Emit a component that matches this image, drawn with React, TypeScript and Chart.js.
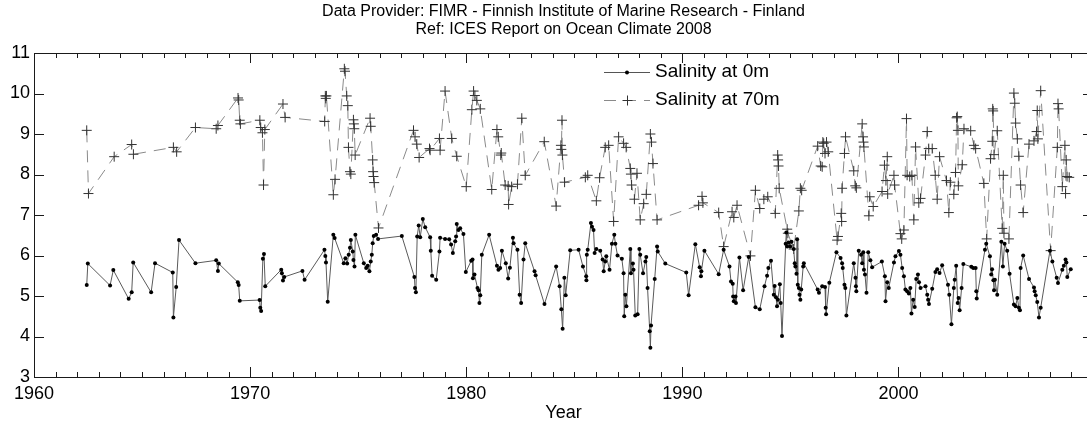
import React, { useEffect, useRef } from 'react';
import { Chart, registerables } from 'chart.js';

Chart.register(...registerables);

const TITLE_LINES = [
  'Data Provider: FIMR - Finnish Institute of Marine Research - Finland',
  'Ref: ICES Report on Ocean Climate 2008',
];
const X_LABEL = 'Year';
const SERIES_NAMES = ['Salinity at 0m', 'Salinity at 70m'];
const X_MIN = 1960;
const X_MAX = 2009;
const X_TICKS = [1960, 1970, 1980, 1990, 2000];
const Y_TICKS = [3, 4, 5, 6, 7, 8, 9, 10, 11];

const YEARS_0M = [
  1962.44, 1962.49, 1963.52, 1963.67, 1964.38, 1964.52, 1964.59, 1965.42, 1965.6, 1966.42,
  1966.45, 1966.58, 1966.71, 1967.47, 1968.43, 1968.51, 1968.55, 1969.43, 1969.47, 1969.52,
  1970.44, 1970.47, 1970.51, 1970.59, 1970.64, 1970.7, 1971.44, 1971.47, 1971.52, 1971.58,
  1972.42, 1972.52,
  1973.44, 1973.48, 1973.51, 1973.59, 1973.85, 1973.91,
  1974.33, 1974.41, 1974.49, 1974.56, 1974.62, 1974.66, 1974.75, 1974.78, 1974.83, 1974.87,
  1975.26, 1975.37, 1975.44, 1975.52, 1975.58, 1975.63, 1975.67, 1975.72, 1975.83, 1975.92,
  1977.02, 1977.6, 1977.63, 1977.67, 1977.73, 1977.8, 1977.87, 1977.99,
  1978.1, 1978.33, 1978.36, 1978.42, 1978.61, 1978.76, 1978.79,
  1979.02, 1979.21, 1979.3, 1979.38, 1979.49, 1979.53, 1979.56, 1979.64, 1979.72, 1979.87, 1979.98,
  1980.23, 1980.29, 1980.31, 1980.38, 1980.52, 1980.57, 1980.61, 1980.65, 1980.72,
  1981.06, 1981.42, 1981.49, 1981.57, 1981.65, 1981.83, 1981.94,
  1982.02, 1982.16, 1982.19, 1982.37, 1982.47, 1982.54, 1982.65, 1982.73,
  1983.16, 1983.21, 1983.62,
  1984.16, 1984.32, 1984.4, 1984.46, 1984.54, 1984.6, 1984.81,
  1985.2, 1985.4, 1985.55, 1985.56, 1985.58, 1985.62, 1985.77, 1985.82, 1985.89, 1985.94,
  1986.02, 1986.2, 1986.31, 1986.36, 1986.43, 1986.48, 1986.63, 1986.74, 1986.85, 1986.9,
  1987.0, 1987.2, 1987.28, 1987.31, 1987.36, 1987.41, 1987.59, 1987.62, 1987.71, 1987.74, 1987.82, 1987.93,
  1988.01, 1988.05, 1988.18, 1988.29, 1988.33, 1988.39, 1988.49, 1988.52, 1988.55, 1988.72, 1988.83, 1988.86,
  1989.21, 1990.18, 1990.29, 1990.6, 1990.8, 1990.86, 1990.88, 1991.02, 1991.68, 1991.91,
  1992.18, 1992.25, 1992.33, 1992.35, 1992.38, 1992.46, 1992.48, 1992.64, 1992.81,
  1993.07, 1993.38, 1993.58, 1993.8, 1993.92, 1993.98,
  1994.1, 1994.23, 1994.27, 1994.33, 1994.38, 1994.42, 1994.51, 1994.55, 1994.61, 1994.78, 1994.81, 1994.85, 1994.92, 1994.99,
  1995.05, 1995.15, 1995.2, 1995.23, 1995.28, 1995.31, 1995.34, 1995.39, 1995.42, 1995.46, 1995.5, 1995.59, 1995.62,
  1996.26, 1996.32, 1996.47, 1996.6, 1996.63, 1996.65, 1996.8,
  1997.13, 1997.32, 1997.39, 1997.42, 1997.5, 1997.54, 1997.59, 1997.93,
  1998.01, 1998.03, 1998.05, 1998.16, 1998.27, 1998.32, 1998.37, 1998.4, 1998.45, 1998.52, 1998.6, 1998.7, 1998.78,
  1999.23, 1999.37, 1999.4, 1999.48, 1999.55, 1999.79, 1999.86,
  2000.02, 2000.09, 2000.17, 2000.25, 2000.32, 2000.4, 2000.48, 2000.55, 2000.6, 2000.68, 2000.75, 2000.82, 2000.9, 2000.95,
  2001.02, 2001.25, 2001.33, 2001.37, 2001.41, 2001.56, 2001.71, 2001.79, 2001.9,
  2002.02, 2002.29, 2002.35, 2002.45, 2002.56, 2002.6, 2002.67, 2002.74, 2002.78, 2002.83, 2002.92,
  2003.0, 2003.37, 2003.46, 2003.57, 2003.6, 2003.62,
  2004.0, 2004.06, 2004.23, 2004.29, 2004.33, 2004.39, 2004.42, 2004.46, 2004.57, 2004.76, 2004.83, 2004.91,
  2005.03, 2005.14, 2005.34, 2005.42, 2005.5, 2005.57, 2005.62, 2005.65, 2005.77,
  2006.04, 2006.27, 2006.3, 2006.35, 2006.42, 2006.5, 2006.58,
  2007.01, 2007.12, 2007.32, 2007.38, 2007.58, 2007.65, 2007.73, 2007.77, 2007.81, 2007.97,
];
const SAL_0M = [
  5.27, 5.8, 5.26, 5.64, 4.93, 5.09, 5.83, 5.09, 5.81, 5.58,
  4.47, 5.22, 6.38, 5.81, 5.88, 5.62, 5.8, 5.34, 5.27, 4.88,
  4.9, 4.71, 4.63, 5.92, 6.04, 5.24, 5.65, 5.56, 5.38, 5.47,
  5.62, 5.4,
  6.14, 5.99, 5.83, 4.86, 6.51, 6.43,
  5.81, 5.93, 5.8, 6.02, 6.19, 6.38, 6.1, 5.89, 5.73, 6.51,
  5.81, 5.69, 5.75, 5.61, 5.85, 6.02, 6.3, 6.48, 6.51, 6.41,
  6.48, 5.47, 5.2, 5.09, 6.47, 6.74, 6.45, 6.9,
  6.7, 6.45, 6.12, 5.5, 5.4, 6.1, 6.44,
  6.41, 6.4, 6.27, 6.06, 6.35, 6.47, 6.78, 6.63, 6.67, 6.53, 5.59,
  5.87, 5.9, 5.44, 5.53, 5.2, 5.14, 4.83, 5.02, 6.02,
  6.51, 5.75, 5.65, 5.69, 6.12, 5.81, 5.43,
  5.7, 6.44, 6.3, 6.14, 5.03, 4.83, 5.9, 6.3,
  5.61, 5.51, 4.8,
  5.73, 5.24, 4.67, 4.19, 5.45, 5.02, 6.13,
  6.14, 5.73, 5.49, 5.39, 6.02, 6.14, 6.8, 6.71, 6.63, 6.06,
  6.16, 6.12, 5.9, 5.61, 5.85, 5.98, 5.65, 6.29, 6.51, 6.29,
  6.0, 5.92, 5.56, 4.5, 5.03, 4.75, 6.16, 5.56, 5.8, 5.65, 4.52, 4.55,
  6.16, 6.02, 5.56, 5.85, 5.96, 5.2, 4.13, 3.72, 4.27, 5.42, 6.22, 6.1,
  5.8, 5.58, 5.02, 6.28, 5.71, 5.49, 5.61, 6.12, 5.54, 6.14,
  5.73, 5.36, 5.3, 4.99, 4.87, 4.99, 4.83, 5.95, 5.14,
  5.96, 4.72, 4.67, 5.24, 5.5, 5.69,
  5.87, 5.03, 5.25, 4.97, 4.75, 4.91, 5.29, 4.83, 4.01, 6.29, 6.57, 6.22, 6.32, 6.22,
  6.34, 6.16, 5.81, 5.73, 5.55, 6.4, 5.28, 5.2, 5.03, 4.91, 5.16, 5.73, 5.81,
  5.16, 5.08, 5.24, 5.22, 4.71, 4.55, 5.33,
  6.08, 5.94, 5.81, 5.69, 5.28, 5.2, 4.52, 5.81,
  5.45, 5.24, 5.12, 6.12, 6.02, 5.81, 6.08, 5.65, 5.53, 5.08, 6.08, 5.88, 5.71,
  5.85, 5.49, 4.87, 5.34, 5.2, 5.83, 5.98,
  6.11, 6.02, 5.69, 5.49, 5.16, 5.12, 5.06, 5.2, 4.57, 4.91, 4.73, 5.42, 5.53, 5.34,
  5.2, 5.24, 5.03, 4.91, 4.8, 5.18, 5.59, 5.66, 5.57,
  5.76, 5.28, 5.03, 4.3, 5.2, 5.4, 5.75, 4.83, 4.95, 4.65, 5.2,
  5.79, 5.72, 5.69, 5.69, 5.12, 4.94,
  6.14, 6.29, 5.98, 5.53, 5.66, 5.39, 5.14, 5.4, 5.03, 6.34, 5.73, 6.29,
  6.12, 5.55, 4.79, 4.75, 4.95, 4.71, 4.65, 5.69, 6.0,
  5.42, 5.21, 5.12, 5.02, 4.85, 4.47, 4.71,
  6.12, 5.85, 5.45, 5.32, 5.65, 5.75, 5.9, 5.83, 5.47, 5.66,
];

const YEARS_70M = [
  1962.44, 1962.52, 1963.71, 1964.52, 1964.6, 1966.45, 1966.6, 1967.47, 1968.43, 1968.51,
  1969.44, 1969.47, 1969.52, 1969.55, 1970.45, 1970.49, 1970.57, 1970.62, 1970.68, 1971.52, 1971.62,
  1973.45, 1973.48, 1973.5, 1973.53, 1973.85, 1973.93, 1974.36, 1974.39, 1974.47, 1974.52,
  1974.55, 1974.62, 1974.66, 1974.78, 1974.8, 1974.82, 1974.86,
  1975.55, 1975.58, 1975.67, 1975.69, 1975.71, 1975.74, 1975.94, 1977.56, 1977.63, 1977.71,
  1977.82, 1978.3, 1978.33, 1978.76, 1978.79, 1979.02, 1979.33, 1979.56,
  1980.0, 1980.26, 1980.34, 1980.4, 1980.49, 1980.65, 1981.18, 1981.42, 1981.48, 1981.6,
  1981.62, 1981.8, 1981.94, 1981.96, 1982.1, 1982.37, 1982.57, 1982.73, 1983.61, 1984.16,
  1984.38, 1984.4, 1984.43, 1984.45, 1984.55,
  1985.51, 1985.62, 1986.02, 1986.17, 1986.43, 1986.59, 1986.82, 1987.05, 1987.28, 1987.4,
  1987.59, 1987.62, 1987.65, 1987.78, 1987.9, 1988.05, 1988.21, 1988.33, 1988.52, 1988.57,
  1988.64, 1988.83,
  1990.75, 1990.91, 1990.95, 1991.68, 1991.91, 1992.3, 1992.38, 1992.53, 1993.15, 1993.38,
  1993.58, 1993.77, 1993.95, 1994.3, 1994.41, 1994.43, 1994.45, 1994.48, 1994.85, 1994.88,
  1995.15, 1995.39, 1995.46, 1995.52,
  1996.26, 1996.4, 1996.47, 1996.5, 1996.54, 1996.6, 1996.67, 1996.75,
  1997.16, 1997.2, 1997.35, 1997.37, 1997.39, 1997.5, 1997.55, 1997.93,
  1998.0, 1998.05, 1998.32, 1998.36, 1998.38, 1998.4, 1998.63, 1998.67, 1998.83,
  1999.24, 1999.35, 1999.42, 1999.48, 1999.5, 1999.79, 1999.82,
  2000.09, 2000.15, 2000.25, 2000.37, 2000.4, 2000.52, 2000.62, 2000.71, 2000.79, 2000.94,
  2001.02, 2001.25, 2001.33, 2001.4, 2001.56, 2001.7, 2001.79, 2001.9,
  2002.22, 2002.33, 2002.4, 2002.56, 2002.64, 2002.69, 2002.72, 2002.75, 2002.77, 2002.95,
  2003.03, 2003.34, 2003.49, 2003.57, 2003.95,
  2004.08, 2004.26, 2004.34, 2004.36, 2004.38, 2004.42, 2004.57, 2004.8, 2004.85, 2004.88,
  2005.11, 2005.34, 2005.38, 2005.42, 2005.5, 2005.57, 2005.65, 2005.77,
  2006.04, 2006.27, 2006.39, 2006.42, 2006.45, 2006.58,
  2007.04, 2007.35, 2007.38, 2007.41, 2007.58, 2007.7, 2007.73, 2007.76, 2007.8, 2007.9,
];
const SAL_70M = [
  9.09, 7.53, 8.44, 8.74, 8.5, 8.67, 8.56, 9.16, 9.13, 9.21,
  9.89, 9.84, 9.34, 9.25, 9.34, 9.16, 9.03, 7.74, 9.11, 9.74, 9.41,
  9.31, 9.94, 9.88, 9.94, 7.5, 7.88, 10.61, 10.55, 9.94, 9.7,
  8.67, 8.07, 8.01, 9.35, 9.25, 9.13, 8.48,
  9.39, 9.19, 8.36, 8.07, 7.95, 7.8, 6.68, 9.09, 8.93, 8.75,
  8.42, 8.64, 8.6, 8.89, 8.6, 10.06, 8.89, 8.45,
  7.7, 9.6, 10.06, 9.95, 9.83, 9.62, 7.63, 9.11, 8.93, 8.48,
  8.53, 7.74, 7.72, 7.26, 7.7, 7.76, 9.39, 7.98, 8.81, 7.22,
  8.72, 8.62, 9.34, 8.48, 7.81,
  7.93, 7.98, 7.35, 7.92, 8.67, 8.72, 6.84, 8.93, 8.77, 8.67,
  8.15, 8.01, 7.74, 7.39, 8.03, 6.88, 7.28, 7.51, 9.0, 8.8,
  8.27, 6.88,
  7.24, 7.46, 7.3, 7.06, 6.22, 7.08, 6.94, 7.24, 5.99, 7.61,
  7.16, 7.39, 7.45, 7.04, 8.48, 8.36, 8.21, 7.66, 6.65, 6.55,
  6.16, 7.1, 7.66, 7.61,
  8.7, 8.21, 8.19, 8.8, 8.77, 8.52, 8.8, 8.56,
  6.38, 6.47, 7.04, 6.84, 7.66, 8.52, 8.93, 8.09,
  7.72, 7.67, 9.25, 8.93, 8.8, 8.68, 6.98, 7.45, 7.21,
  7.58, 8.23, 7.85, 8.44, 7.52, 7.98, 7.74,
  6.54, 6.41, 6.63, 9.38, 7.98, 7.95, 7.98, 6.88, 8.68, 7.3,
  7.41, 8.48, 9.06, 8.64, 8.64, 7.98, 7.39, 8.44,
  7.85, 7.06, 7.81, 7.51, 8.05, 9.4, 9.43, 9.09, 7.72, 8.24,
  9.13, 9.08, 8.72, 8.64, 7.78,
  6.41, 8.39, 8.82, 9.62, 9.57, 8.49, 9.08, 6.67, 7.98, 6.55,
  6.41, 10.01, 9.76, 9.27, 8.88, 8.45, 7.74, 7.06,
  8.75, 8.83, 9.06, 9.58, 8.88, 10.07,
  6.12, 8.67, 9.75, 9.62, 7.7, 8.72, 7.53, 8.36, 7.95, 7.93,
];

const FONT_FAMILY = '"Liberation Sans", Arial, Helvetica, sans-serif';

function toPoints(xs: number[], ys: number[]) {
  const n = Math.min(xs.length, ys.length);
  const out: { x: number; y: number }[] = [];
  for (let i = 0; i < n; i++) out.push({ x: xs[i], y: ys[i] });
  return out;
}

const matlabFramePlugin = {
  id: 'matlabFrame',
  afterDatasetsDraw(chart: any) {
    const { ctx, chartArea } = chart;
    const { left, right, top, bottom } = chartArea;
    const xs = chart.scales.x;
    const ys = chart.scales.y;
    ctx.save();
    ctx.strokeStyle = '#1a1a1a';
    ctx.lineWidth = 1;
    ctx.strokeRect(Math.round(left) + 0.5, Math.round(top) + 0.5, Math.round(right - left), Math.round(bottom - top));
    ctx.beginPath();
    for (let yr = X_MIN; yr <= X_MAX; yr++) {
      const px = Math.round(xs.getPixelForValue(yr)) + 0.5;
      const len = yr % 10 === 0 ? 10 : 5;
      ctx.moveTo(px, bottom);
      ctx.lineTo(px, bottom - len);
      ctx.moveTo(px, top);
      ctx.lineTo(px, top + len);
    }
    for (const v of Y_TICKS) {
      const py = Math.round(ys.getPixelForValue(v)) + 0.5;
      ctx.moveTo(left, py);
      ctx.lineTo(left + 10, py);
      ctx.moveTo(right, py);
      ctx.lineTo(right - 10, py);
    }
    ctx.stroke();
    ctx.restore();
  },
  afterDraw(chart: any) {
    const { ctx, chartArea } = chart;
    const cx = (chartArea.left + chartArea.right) / 2;
    ctx.save();
    ctx.fillStyle = '#000';
    ctx.textAlign = 'center';
    ctx.textBaseline = 'middle';
    ctx.font = `16px ${FONT_FAMILY}`;
    ctx.fillText(TITLE_LINES[0], cx, 12);
    ctx.fillText(TITLE_LINES[1], cx, 30);

    // legend
    const lx0 = 604;
    const lx1 = 650;
    const rows = [72, 100];
    ctx.textAlign = 'left';
    ctx.font = `19px ${FONT_FAMILY}`;
    ctx.strokeStyle = '#555';
    ctx.lineWidth = 1;
    ctx.setLineDash([]);
    ctx.beginPath();
    ctx.moveTo(lx0, rows[0] + 0.5);
    ctx.lineTo(lx1, rows[0] + 0.5);
    ctx.stroke();
    ctx.fillStyle = '#000';
    ctx.beginPath();
    ctx.arc((lx0 + lx1) / 2, rows[0] + 0.5, 2, 0, Math.PI * 2);
    ctx.fill();
    ctx.fillText(SERIES_NAMES[0], 655, rows[0]);
    ctx.strokeStyle = '#8a8a8a';
    ctx.setLineDash([12, 8]);
    ctx.beginPath();
    ctx.moveTo(lx0, rows[1] + 0.5);
    ctx.lineTo(lx1, rows[1] + 0.5);
    ctx.stroke();
    ctx.setLineDash([]);
    ctx.strokeStyle = '#333';
    const mx = Math.round((lx0 + lx1) / 2) + 0.5;
    ctx.beginPath();
    ctx.moveTo(mx - 5, rows[1] + 0.5);
    ctx.lineTo(mx + 5, rows[1] + 0.5);
    ctx.moveTo(mx, rows[1] - 4.5);
    ctx.lineTo(mx, rows[1] + 5.5);
    ctx.stroke();
    ctx.fillStyle = '#000';
    ctx.fillText(SERIES_NAMES[1], 655, rows[1]);
    ctx.restore();
  },
};

export default function App() {
  const canvasRef = useRef<HTMLCanvasElement | null>(null);

  useEffect(() => {
    document.documentElement.style.overflow = 'hidden';
    document.body.style.margin = '0';
    document.body.style.overflow = 'hidden';
    const canvas = canvasRef.current;
    if (!canvas) return;
    const chart = new Chart(canvas, {
      type: 'scatter',
      data: {
        datasets: [
          {
            label: SERIES_NAMES[0],
            data: toPoints(YEARS_0M, SAL_0M),
            showLine: true,
            borderColor: '#5a5a5a',
            borderWidth: 1,
            pointStyle: 'circle',
            pointRadius: 2,
            pointBackgroundColor: '#000',
            pointBorderColor: '#000',
            pointBorderWidth: 0,
            pointHoverRadius: 2,
          },
          {
            label: SERIES_NAMES[1],
            data: toPoints(YEARS_70M, SAL_70M),
            showLine: true,
            borderColor: '#8a8a8a',
            borderWidth: 1,
            borderDash: [12, 8],
            pointStyle: 'cross',
            pointRadius: 5,
            pointBorderColor: '#333',
            pointBorderWidth: 1,
            pointHoverRadius: 5,
          },
        ],
      },
      options: {
        responsive: false,
        animation: false,
        devicePixelRatio: 1,
        layout: { padding: { top: 53, right: 7, left: 0, bottom: 0 } },
        plugins: {
          legend: { display: false },
          title: { display: false },
          tooltip: { enabled: false },
        },
        scales: {
          x: {
            type: 'linear',
            min: X_MIN,
            max: X_MAX,
            grid: { display: false, drawTicks: false },
            border: { display: false },
            afterBuildTicks: (scale: any) => {
              scale.ticks = X_TICKS.map((v) => ({ value: v }));
            },
            afterFit: (scale: any) => {
              scale.height = 50;
            },
            ticks: {
              color: '#000',
              padding: 6,
              maxRotation: 0,
              autoSkip: false,
              font: { family: FONT_FAMILY, size: 18 },
              callback: (v: any) => String(v),
            },
            title: {
              display: true,
              text: X_LABEL,
              color: '#000',
              font: { family: FONT_FAMILY, size: 18 },
              padding: { top: 0, bottom: 3 },
            },
          },
          y: {
            type: 'linear',
            min: 3,
            max: 11,
            grid: { display: false, drawTicks: false },
            border: { display: false },
            afterBuildTicks: (scale: any) => {
              scale.ticks = Y_TICKS.map((v) => ({ value: v }));
            },
            afterFit: (scale: any) => {
              scale.width = 34;
            },
            ticks: {
              color: '#000',
              padding: 4,
              autoSkip: false,
              font: { family: FONT_FAMILY, size: 18 },
              callback: (v: any) => String(v),
            },
          },
        },
      },
      plugins: [matlabFramePlugin],
    });
    return () => chart.destroy();
  }, []);

  return (
    <div style={{ position: 'absolute', left: 0, top: 0, width: 1100, height: 427, background: '#fff' }}>
      <canvas ref={canvasRef} width={1100} height={427} style={{ display: 'block' }} />
    </div>
  );
}
